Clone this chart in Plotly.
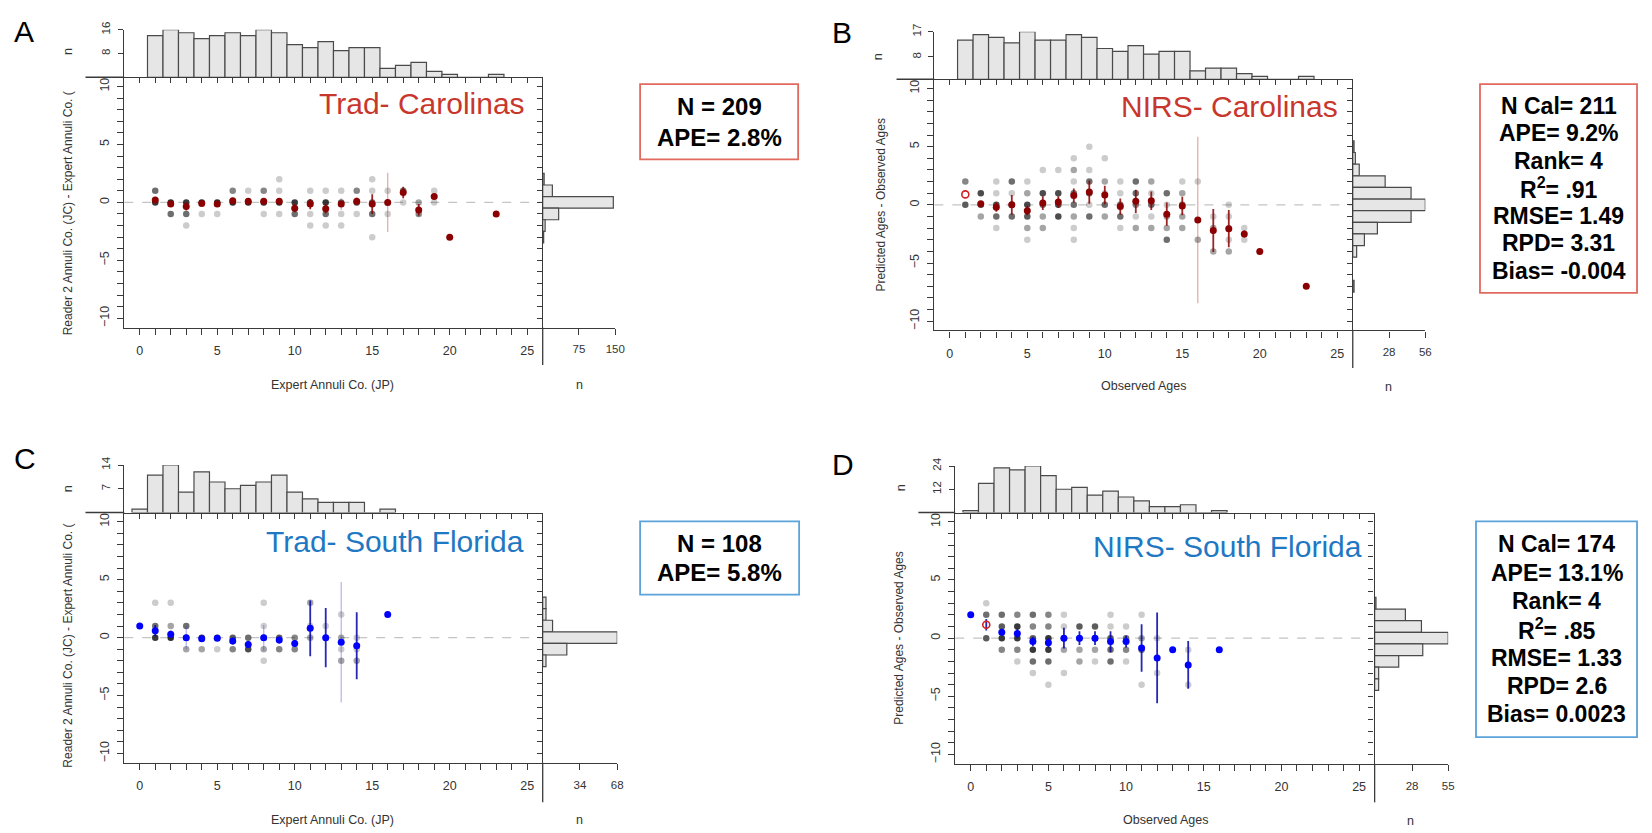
import plotly.graph_objects as go

W, H = 1652, 833
FONT = "Liberation Sans, Arial, sans-serif"

# ---------------- data ----------------
# individual reading differences: (age, difference, number of fish at that spot)
a_points = [
    (1, 1, 4), (1, 0, 8),
    (2, 0, 10), (2, -1, 4),
    (3, 0, 8), (3, -1, 4), (3, -2, 1),
    (4, 0, 10), (4, -1, 1),
    (5, 0, 10), (5, -1, 1),
    (6, 1, 3), (6, 0, 10),
    (7, 1, 1), (7, 0, 10),
    (8, 1, 3), (8, 0, 10), (8, -1, 1),
    (9, 2, 1), (9, 1, 1), (9, 0, 10), (9, -1, 1),
    (10, 0, 8), (10, -1, 4),
    (11, 1, 1), (11, 0, 7), (11, -1, 1), (11, -2, 1),
    (12, 1, 1), (12, 0, 8), (12, -1, 4), (12, -2, 1),
    (13, 1, 1), (13, 0, 5), (13, -1, 1), (13, -2, 1),
    (14, 1, 3), (14, 0, 6), (14, -1, 1),
    (15, 2, 1), (15, 1, 1), (15, 0, 4), (15, -1, 4), (15, -3, 1),
    (16, 1, 1), (16, 0, 1), (16, -1, 1),
    (17, 1, 4), (17, 0, 1),
    (18, 0, 2), (18, -1, 3),
    (19, 1, 1), (19, 0, 1),
]
# mean difference per age: (age, mean, half-width of interval)
a_means = [(1, 0.2, 0.25), (2, -0.15, 0.15), (3, -0.35, 0.35), (4, -0.1, 0.15), (5, -0.15, 0.15),
           (6, 0.15, 0.2), (7, 0.1, 0.1), (8, 0.1, 0.2), (9, 0.1, 0.2), (10, -0.5, 0.35),
           (11, -0.15, 0.45), (12, -0.55, 0.4), (13, -0.15, 0.5), (14, 0.1, 0.3), (15, -0.15, 0.85),
           (16, 0.0, 2.55), (17, 0.85, 0.5), (18, -0.65, 0.5), (19, 0.5, 0), (20, -3, 0), (23, -1, 0)]
a_open = []
a_hist_age = list(range(1, 24))
a_hist_n = [14, 16, 15, 13, 14, 15, 14, 16, 15, 11, 10, 12, 9, 10, 10, 3, 4, 5, 2, 1, 0, 0, 1]
a_resid_bin = [2, 1, 0, -1, -2, -3]
a_resid_n = [3, 20, 146, 33, 5, 2]

b_points = [
    (1, 2, 3), (1, 0, 5),
    (2, 1, 6), (2, 0, 6), (2, -1, 2),
    (3, 2, 1), (3, 1, 1), (3, 0, 6), (3, -1, 4), (3, -2, 1),
    (4, 2, 4), (4, 1, 1), (4, 0, 5), (4, -1, 4),
    (5, 2, 1), (5, 1, 2), (5, 0, 6), (5, -1, 5), (5, -2, 2), (5, -3, 1),
    (6, 3, 1), (6, 1, 6), (6, 0, 4), (6, -1, 2), (6, -2, 2),
    (7, 3, 1), (7, 1, 6), (7, 0, 6), (7, -1, 6),
    (8, 4, 1), (8, 3, 2), (8, 2, 1), (8, 1, 4), (8, 0, 4), (8, -1, 2), (8, -2, 1), (8, -3, 1),
    (9, 5, 1), (9, 3, 1), (9, 2, 4), (9, 1, 4), (9, 0, 1), (9, -1, 4),
    (10, 4, 1), (10, 2, 2), (10, 1, 1), (10, 0, 4), (10, -1, 2),
    (11, 2, 1), (11, 1, 1), (11, 0, 4), (11, -1, 4), (11, -2, 1),
    (12, 2, 4), (12, 1, 4), (12, 0, 3), (12, -1, 1), (12, -2, 2),
    (13, 2, 2), (13, 1, 1), (13, 0, 4), (13, -1, 1), (13, -2, 2),
    (14, 1, 4), (14, 0, 1), (14, -1, 2), (14, -2, 2), (14, -3, 4),
    (15, 2, 1), (15, 1, 2), (15, 0, 4), (15, -1, 2), (15, -2, 2),
    (16, 2, 1), (16, -3, 2),
    (17, -1, 1), (17, -2, 2), (17, -4, 2),
    (18, 0, 1), (18, -1, 1), (18, -2, 1), (18, -3, 1), (18, -4, 2),
    (19, -2, 1), (19, -3, 1),
]
b_means = [(2, 0.1, 0.2), (3, -0.2, 0.4), (4, 0.0, 0.85), (5, -0.5, 0.4), (6, 0.15, 0.6),
           (7, 0.25, 0.5), (8, 0.8, 0.6), (9, 1.1, 1.0), (10, 0.85, 0.8), (11, -0.15, 0.7),
           (12, 0.3, 1.0), (13, 0.35, 0.8), (14, -0.8, 1.0), (15, -0.1, 0.8), (16, -1.3, 7.15),
           (17, -2.2, 1.85), (18, -2.05, 1.6), (19, -2.5, 0.3), (20, -4, 0), (23, -7, 0)]
b_open = [(1, 0.9, 0)]
b_hist_age = list(range(1, 24))
b_hist_n = [14, 16, 15, 13, 17, 14, 14, 16, 15, 11, 10, 12, 9, 10, 10, 3, 4, 4, 2, 1, 0, 0, 1]
b_resid_bin = [5, 4, 3, 2, 1, 0, -1, -2, -3, -4, -7]
b_resid_n = [1, 2, 5, 25, 45, 56, 45, 19, 9, 3, 1]

c_points = [
    (1, 3, 1), (1, 1, 4), (1, 0, 8),
    (2, 3, 1), (2, 1, 2), (2, 0, 10),
    (3, 1, 4), (3, 0, 3), (3, -1, 2),
    (4, 0, 8), (4, -1, 2),
    (5, 0, 6), (5, -1, 1),
    (6, 0, 5), (6, -1, 3),
    (7, 0, 4), (7, -1, 6),
    (8, 3, 1), (8, 1, 1), (8, 0, 2), (8, -1, 2), (8, -2, 1),
    (9, 0, 5), (9, -1, 3),
    (10, 0, 3), (10, -1, 3),
    (11, 3, 2), (11, 1, 1), (11, 0, 2),
    (12, 1, 1), (12, 0, 1),
    (13, 2, 1), (13, 0, 2), (13, -1, 1), (13, -2, 2),
    (14, 0, 1), (14, -1, 1), (14, -2, 2),
]
c_means = [(0, 1, 0), (1, 0.6, 0.5), (2, 0.3, 0.3), (3, 0.0, 1.0), (4, -0.1, 0.2), (5, -0.05, 0.1),
           (6, -0.3, 0.3), (7, -0.6, 0.3), (8, 0.0, 1.1), (9, -0.2, 0.3), (10, -0.5, 0.3),
           (11, 0.8, 2.4), (12, 0.0, 2.55), (13, -0.4, 5.2), (14, -0.7, 2.9), (16, 2, 0)]
c_open = []
c_hist_age = list(range(0, 17))
c_hist_n = [1, 11, 14, 6, 12, 9, 7, 8, 9, 11, 6, 4, 3, 3, 3, 0, 1]
c_resid_bin = [3, 2, 1, 0, -1, -2]
c_resid_n = [3, 3, 9, 68, 22, 3]

d_points = [
    (1, 3, 1), (1, 2, 4), (1, 0, 5),
    (2, 2, 4), (2, 1, 5), (2, 0, 8), (2, -1, 3),
    (3, 2, 3), (3, 1, 8), (3, 0, 8), (3, -1, 3), (3, -2, 1),
    (4, 2, 4), (4, 1, 3), (4, 0, 5), (4, -1, 8), (4, -2, 4), (4, -3, 1),
    (5, 2, 3), (5, 1, 3), (5, 0, 8), (5, -1, 8), (5, -2, 4), (5, -4, 1),
    (6, 2, 1), (6, 1, 1), (6, 0, 3), (6, -1, 2), (6, -3, 1),
    (7, 1, 5), (7, 0, 3), (7, -1, 2), (7, -2, 2),
    (8, 1, 5), (8, 0, 3), (8, -1, 2), (8, -2, 1),
    (9, 2, 1), (9, 1, 1), (9, 0, 5), (9, -1, 4), (9, -2, 4),
    (10, 1, 1), (10, 0, 4), (10, -1, 3), (10, -2, 1),
    (11, 2, 1), (11, 0, 2), (11, -1, 4), (11, -4, 1),
    (12, 0, 1), (12, -3, 1),
    (14, -1, 1), (14, -4, 1),
]
d_means = [(0, 2, 0), (2, 0.5, 0.3), (3, 0.4, 0.4), (4, -0.3, 0.4), (5, -0.4, 0.4), (6, 0.0, 0.9),
           (7, 0.0, 0.6), (8, 0.0, 0.6), (9, -0.3, 0.9), (10, -0.3, 0.5), (11, -0.85, 2.05),
           (12, -1.7, 3.9), (13, -1, 0), (14, -2.3, 2.05), (16, -1, 0)]
d_open = [(1, 1.15, 0.5)]
d_hist_age = list(range(0, 17))
d_hist_n = [1, 15, 23, 22, 24, 19, 12, 13, 9, 11, 8, 6, 3, 3, 4, 0, 1]
d_resid_bin = [3, 2, 1, 0, -1, -2, -3, -4]
d_resid_n = [1, 23, 35, 55, 36, 18, 3, 3]

a_stats = ["N = 209", "APE= 2.8%"]
b_stats = ["N Cal= 211", "APE= 9.2%", "Rank= 4", "R<sup>2</sup>= .91", "RMSE= 1.49", "RPD= 3.31", "Bias= -0.004"]
c_stats = ["N = 108", "APE= 5.8%"]
d_stats = ["N Cal= 174", "APE= 13.1%", "Rank= 4", "R<sup>2</sup>= .85", "RMSE= 1.33", "RPD= 2.6", "Bias= 0.0023"]

TRAD_X = "Expert Annuli Co. (JP)"
TRAD_Y = "Reader 2 Annuli Co. (JC) - Expert Annuli Co. ("
NIRS_X = "Observed Ages"
NIRS_Y = "Predicted Ages - Observed Ages"

# ---------------- styling / layout ----------------
RED_TXT, BLUE_TXT = "#C8372D", "#1E78C3"
RED_BOX, BLUE_BOX = "#E2695E", "#5BA3D9"

panels = [
    dict(letter="A", title="Trad- Carolinas", tcol=RED_TXT, bcol=RED_BOX, mean_col="#8B0000",
         bar_col="rgba(139,0,0,0.85)", faint_col="rgba(190,60,60,0.45)", faint={13, 16},
         points=a_points, means=a_means, opens=a_open,
         hist=(a_hist_age, a_hist_n), resid=(a_resid_bin, a_resid_n),
         hmax=16, hticks=[8, 16], rmax=150, rticks=[75, 150],
         stats=a_stats, xtitle=TRAD_X, ytitle=TRAD_Y,
         mx=(125, 546), my=(69, 322), htop=21, rright=619, hext=86, vext=360,
         letter_xy=(24, 23), title_xy=(530, 96), box=(644, 803, 76, 152), line_y=[99, 130], line_cx=724,
         xt_xy=(335, 380), yt_xy=(68, 207), hn_xy=(68, 43), rn_xy=(583, 380), fs=24),
    dict(letter="B", title="NIRS- Carolinas", tcol=RED_TXT, bcol=RED_BOX, mean_col="#8B0000",
         bar_col="rgba(139,0,0,0.85)", faint_col="rgba(190,60,60,0.45)", faint={16},
         points=b_points, means=b_means, opens=b_open,
         hist=(b_hist_age, b_hist_n), resid=(b_resid_bin, b_resid_n),
         hmax=17, hticks=[8, 17], rmax=56, rticks=[28, 56],
         stats=b_stats, xtitle=NIRS_X, ytitle=NIRS_Y,
         mx=(940, 1361), my=(71, 325), htop=23, rright=1434, hext=902, vext=363,
         letter_xy=(847, 24), title_xy=(1348, 99), box=(1489, 1647, 76, 287),
         line_y=[98 + 27.8 * k for k in range(7)], line_cx=1568,
         xt_xy=(1150, 381), yt_xy=(886, 198), hn_xy=(884, 48), rn_xy=(1397, 382), fs=23),
    dict(letter="C", title="Trad- South Florida", tcol=BLUE_TXT, bcol=BLUE_BOX, mean_col="#0000FF",
         bar_col="rgba(0,0,170,0.85)", faint_col="rgba(60,60,210,0.4)", faint={3, 8, 13},
         points=c_points, means=c_means, opens=c_open,
         hist=(c_hist_age, c_hist_n), resid=(c_resid_bin, c_resid_n),
         hmax=14, hticks=[7, 14], rmax=68, rticks=[34, 68],
         stats=c_stats, xtitle=TRAD_X, ytitle=TRAD_Y,
         mx=(125, 546), my=(509, 762), htop=461, rright=621, hext=86, vext=802,
         letter_xy=(25, 454), title_xy=(529, 538), box=(644, 804, 518, 592), line_y=[540, 570], line_cx=724,
         xt_xy=(335, 820), yt_xy=(68, 644), hn_xy=(68, 485), rn_xy=(583, 820), fs=24),
    dict(letter="D", title="NIRS- South Florida", tcol=BLUE_TXT, bcol=BLUE_BOX, mean_col="#0000FF",
         bar_col="rgba(0,0,170,0.85)", faint_col="rgba(60,60,210,0.4)", faint=set(),
         points=d_points, means=d_means, opens=d_open,
         hist=(d_hist_age, d_hist_n), resid=(d_resid_bin, d_resid_n),
         hmax=24, hticks=[12, 24], rmax=55, rticks=[28, 55],
         stats=d_stats, xtitle=NIRS_X, ytitle=NIRS_Y,
         mx=(961, 1383), my=(509, 763), htop=462, rright=1457, hext=924, vext=802,
         letter_xy=(848, 460), title_xy=(1372, 543), box=(1485, 1647, 518, 736),
         line_y=[541 + 28.7 * k for k in range(7)], line_cx=1566,
         xt_xy=(1173, 820), yt_xy=(905, 636), hn_xy=(906, 484), rn_xy=(1419, 821), fs=23),
]

YR = [-10.8, 10.8]
XR = [-1, 26]
INK = "#3a3a3a"
LABEL = "#333333"
X_MAJOR = [0, 5, 10, 15, 20, 25]
Y_MAJOR = [-10, -5, 0, 5, 10]
X_MINOR = list(range(26))
Y_MINOR = list(range(-10, 11))


def px(x):
    return x / W


def py(y):
    return 1 - y / H


def suffix(n):
    return "" if n == 1 else str(n)


def gray(n):
    # overlapping semi-transparent points darken with the number of fish
    a = 1 - 0.78 ** n
    return f"rgba(25,25,25,{a:.3f})"


def minor_ticks(vals, length):
    return dict(tickmode="array", tickvals=vals, ticks="outside", ticklen=length,
                tickcolor=INK, tickwidth=1.2)


base_axis = dict(showgrid=False, zeroline=False, showline=True, linecolor=INK, linewidth=1.3,
                 ticks="outside", tickcolor=INK, tickwidth=1.2, fixedrange=True)

fig = go.Figure()
layout = dict(width=W, height=H, margin=dict(l=0, r=0, t=0, b=0), paper_bgcolor="white",
              plot_bgcolor="rgba(0,0,0,0)", showlegend=False, font=dict(family=FONT, color=LABEL))
shapes, annots = [], []

for i, p in enumerate(panels):
    m, t, r = 3 * i + 1, 3 * i + 2, 3 * i + 3
    xm, ym = "x" + suffix(m), "y" + suffix(m)
    xt, yt = "x" + suffix(t), "y" + suffix(t)
    xr, yr = "x" + suffix(r), "y" + suffix(r)
    x0, x1 = p["mx"]
    ytop, ybot = p["my"]
    main_xd = [px(x0), px(x1)]
    main_yd = [py(ybot), py(ytop)]

    layout["xaxis" + suffix(m)] = dict(base_axis, domain=main_xd, range=XR, anchor=ym,
                                       tickmode="array", tickvals=X_MAJOR, minor=minor_ticks(X_MINOR, 6),
                                       ticklen=6, tickfont=dict(size=12.5, color=LABEL), ticklabelstandoff=5)
    layout["yaxis" + suffix(m)] = dict(base_axis, domain=main_yd, range=YR, anchor=xm,
                                       tickmode="array", tickvals=Y_MAJOR, minor=minor_ticks(Y_MINOR, 6),
                                       tickangle=-90, ticklen=6, tickfont=dict(size=12.5, color=LABEL),
                                       ticklabelstandoff=3)
    layout["xaxis" + suffix(t)] = dict(base_axis, domain=main_xd, range=XR, anchor=yt,
                                       tickmode="array", tickvals=X_MINOR, showticklabels=False, ticklen=5)
    layout["yaxis" + suffix(t)] = dict(base_axis, domain=[py(ytop), py(p["htop"])], range=[0, p["hmax"]],
                                       anchor=xt, tickmode="array", tickvals=p["hticks"], tickangle=-90,
                                       ticklen=5, tickfont=dict(size=11.5, color=LABEL), ticklabelstandoff=3)
    layout["xaxis" + suffix(r)] = dict(base_axis, domain=[px(x1), px(p["rright"])], range=[0, p["rmax"]],
                                       anchor=yr, tickmode="array", tickvals=p["rticks"], ticklen=6,
                                       tickfont=dict(size=11.5, color=LABEL), ticklabelstandoff=5)
    layout["yaxis" + suffix(r)] = dict(base_axis, domain=main_yd, range=YR, anchor=xr,
                                       tickmode="array", tickvals=Y_MINOR, showticklabels=False, ticklen=5)

    # zero reference line
    shapes.append(dict(type="line", xref=xm, yref=ym, x0=XR[0], x1=XR[1], y0=0, y1=0, layer="below",
                       line=dict(color="#c4c4c4", width=1.2, dash="dash")))
    # axis line extensions around the marginal histograms
    shapes.append(dict(type="line", xref="paper", yref="paper", x0=px(p["hext"]), x1=px(x0),
                       y0=py(ytop), y1=py(ytop), line=dict(color=INK, width=1.3)))
    shapes.append(dict(type="line", xref="paper", yref="paper", x0=px(x1), x1=px(x1),
                       y0=py(ybot), y1=py(p["vext"]), line=dict(color=INK, width=1.3)))

    # marginal histograms
    ages, counts = p["hist"]
    fig.add_trace(go.Bar(x=ages, y=counts, xaxis=xt, yaxis=yt, width=1,
                         marker=dict(color="#E6E6E6", line=dict(color="#4a4a4a", width=1.2))))
    bins, rcounts = p["resid"]
    fig.add_trace(go.Bar(x=rcounts, y=bins, orientation="h", xaxis=xr, yaxis=yr, width=1,
                         marker=dict(color="#E6E6E6", line=dict(color="#4a4a4a", width=1.2))))

    # individual differences
    fig.add_trace(go.Scatter(x=[q[0] for q in p["points"]], y=[q[1] for q in p["points"]],
                             mode="markers", xaxis=xm, yaxis=ym,
                             marker=dict(size=6.5, color=[gray(q[2]) for q in p["points"]], line=dict(width=0))))

    # interval bars for the mean differences
    for faint in (False, True):
        bx, by = [], []
        for age, mean, err in p["means"] + p["opens"]:
            if err <= 0 or ((age in p["faint"]) != faint):
                continue
            bx += [age, age, None]
            by += [mean - err, mean + err, None]
        if bx:
            fig.add_trace(go.Scatter(x=bx, y=by, mode="lines", xaxis=xm, yaxis=ym,
                                     line=dict(color=p["faint_col"] if faint else p["bar_col"],
                                               width=1.2 if faint else 1.8)))

    fig.add_trace(go.Scatter(x=[q[0] for q in p["means"]], y=[q[1] for q in p["means"]],
                             mode="markers", xaxis=xm, yaxis=ym,
                             marker=dict(size=7, color=p["mean_col"], line=dict(width=0))))
    if p["opens"]:
        fig.add_trace(go.Scatter(x=[q[0] for q in p["opens"]], y=[q[1] for q in p["opens"]],
                                 mode="markers", xaxis=xm, yaxis=ym,
                                 marker=dict(size=7, symbol="circle-open", color="#D42020",
                                             line=dict(width=1.6, color="#D42020"))))

    # text
    lx, ly = p["letter_xy"]
    annots.append(dict(x=px(lx), y=py(ly), xref="paper", yref="paper", text=p["letter"], showarrow=False,
                       font=dict(size=30, color="black"), xanchor="center", yanchor="middle"))
    tx, ty = p["title_xy"]
    annots.append(dict(x=px(tx), y=py(ty), xref="paper", yref="paper", text=p["title"], showarrow=False,
                       font=dict(size=30, color=p["tcol"]), xanchor="right", yanchor="middle"))
    bx0, bx1, by0, by1 = p["box"]
    shapes.append(dict(type="rect", xref="paper", yref="paper", x0=px(bx0), x1=px(bx1),
                       y0=py(by1), y1=py(by0), line=dict(color=p["bcol"], width=1.8)))
    for txt, yy in zip(p["stats"], p["line_y"]):
        annots.append(dict(x=px(p["line_cx"]), y=py(yy), xref="paper", yref="paper", text=txt,
                           showarrow=False, xanchor="center", yanchor="middle",
                           font=dict(size=p["fs"], color="black", weight="bold")))
    xx, xy = p["xt_xy"]
    annots.append(dict(x=px(xx), y=py(xy), xref="paper", yref="paper", text=p["xtitle"], showarrow=False,
                       font=dict(size=12.5, color=LABEL), xanchor="center", yanchor="middle"))
    yx, yy = p["yt_xy"]
    annots.append(dict(x=px(yx), y=py(yy), xref="paper", yref="paper", text=p["ytitle"], showarrow=False,
                       textangle=-90, font=dict(size=12, color=LABEL), xanchor="center", yanchor="middle"))
    nx, ny = p["hn_xy"]
    annots.append(dict(x=px(nx), y=py(ny), xref="paper", yref="paper", text="n", showarrow=False,
                       textangle=-90, font=dict(size=12.5, color=LABEL), xanchor="center", yanchor="middle"))
    rx, ry = p["rn_xy"]
    annots.append(dict(x=px(rx), y=py(ry), xref="paper", yref="paper", text="n", showarrow=False,
                       font=dict(size=12.5, color=LABEL), xanchor="center", yanchor="middle"))

layout["shapes"] = shapes
layout["annotations"] = annots
fig.update_layout(**layout)
fig.write_html("out.html")
